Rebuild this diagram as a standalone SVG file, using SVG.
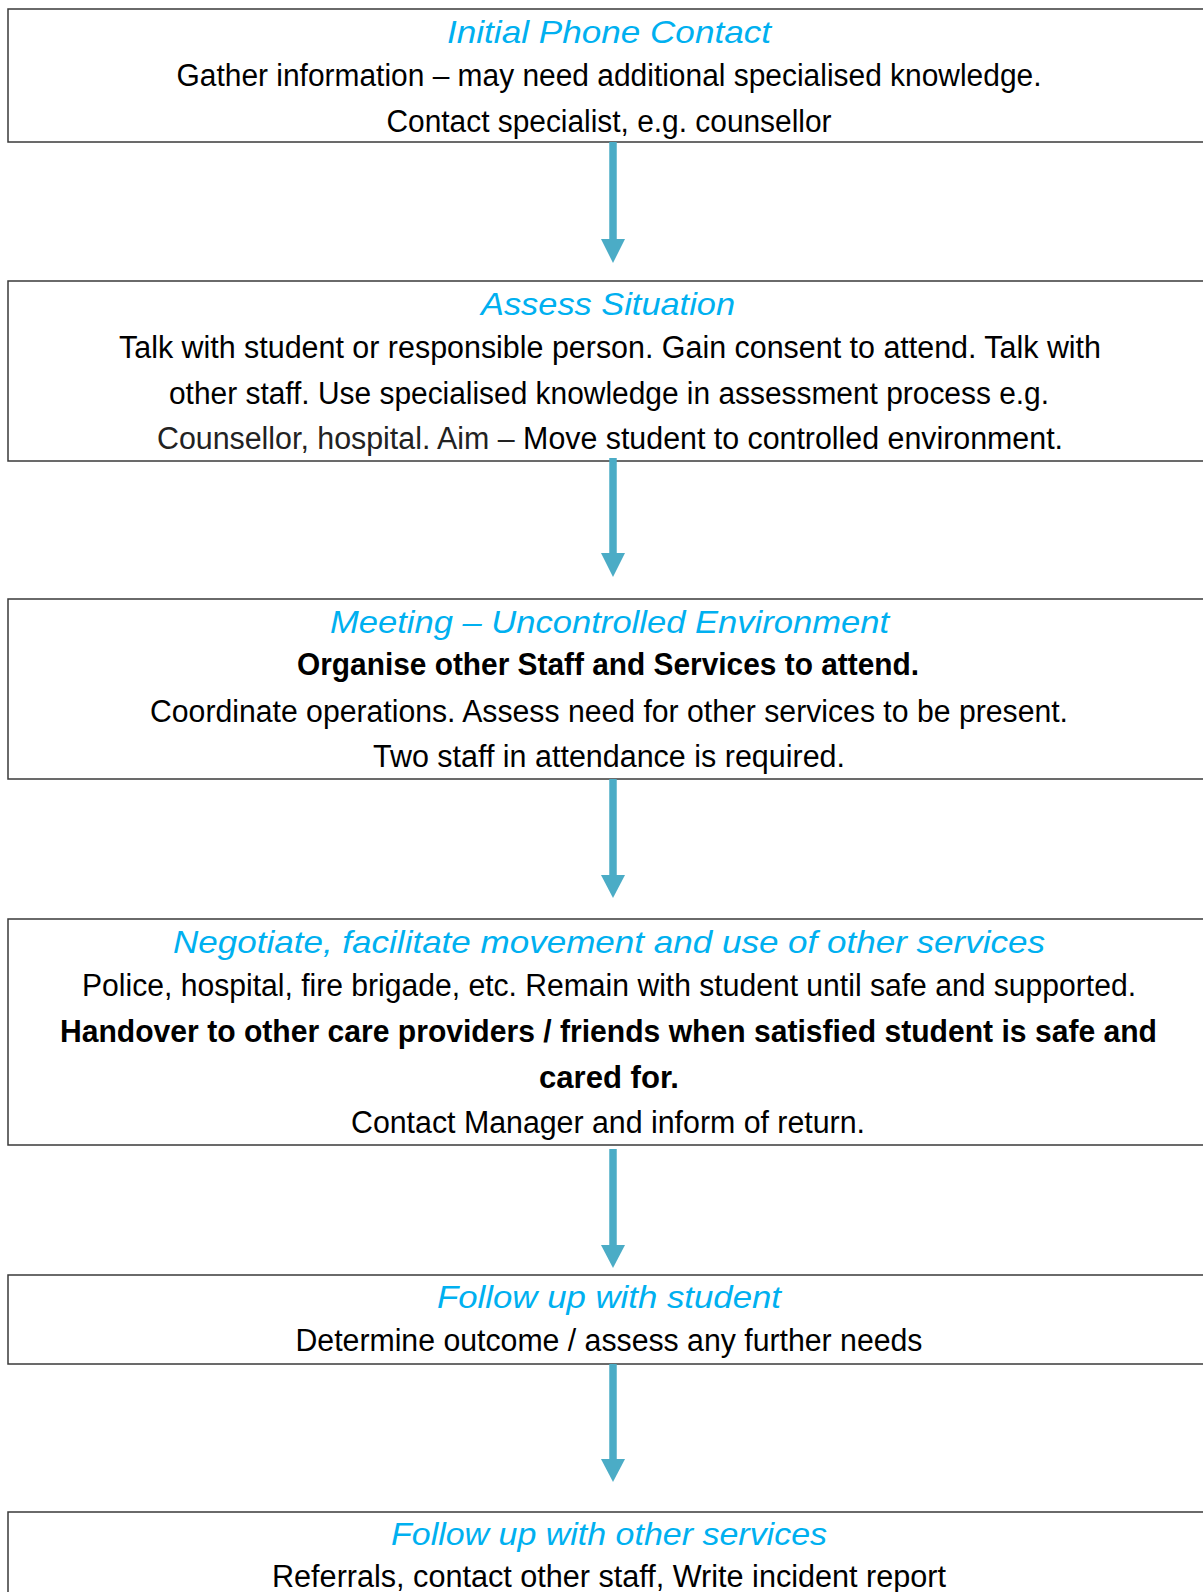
<svg xmlns="http://www.w3.org/2000/svg" width="1203" height="1592" viewBox="0 0 1203 1592">
<style>
.box{fill:#fff;stroke:#3a3a3a;stroke-width:1.5}
.t{font-family:"Liberation Sans",Arial,sans-serif;font-size:32px;font-style:italic;fill:#00B0F0;text-anchor:middle}
.b{font-family:"Liberation Sans",Arial,sans-serif;font-size:31px;fill:#000;text-anchor:middle}
.bold{font-weight:bold}
.light{fill:#222}
.conn{stroke:#4BACC6;stroke-width:7.5;fill:none}
.head{fill:#4BACC6}
</style>
<rect width="1203" height="1592" fill="#fff"/>
<g id="n1">
<rect class="box" x="8" y="9" width="1220" height="133"/>
<text class="t" x="609" y="43" textLength="324" lengthAdjust="spacingAndGlyphs">Initial  Phone  Contact</text>
<text class="b" x="609" y="86" textLength="865" lengthAdjust="spacingAndGlyphs">Gather information – may need additional specialised knowledge.</text>
<text class="b" x="609" y="132" textLength="445" lengthAdjust="spacingAndGlyphs">Contact specialist, e.g. counsellor</text>
</g>
<g id="n2">
<rect class="box" x="8" y="281" width="1220" height="180"/>
<text class="t" x="608" y="315" textLength="254" lengthAdjust="spacingAndGlyphs">Assess Situation</text>
<text class="b" x="610" y="358" textLength="982" lengthAdjust="spacingAndGlyphs">Talk with student or responsible person. Gain consent to attend. Talk with</text>
<text class="b" x="609" y="404" textLength="880" lengthAdjust="spacingAndGlyphs">other staff. Use specialised knowledge in assessment process e.g.</text>
<text class="b" x="610" y="449" textLength="906" lengthAdjust="spacingAndGlyphs"><tspan class="light">Counsellor, hospital. Aim –</tspan> Move student to controlled environment.</text>
</g>
<g id="n3">
<rect class="box" x="8" y="599" width="1220" height="180"/>
<text class="t" x="609.5" y="633" textLength="559" lengthAdjust="spacingAndGlyphs">Meeting – Uncontrolled Environment</text>
<text class="b bold" x="608" y="675" textLength="622" lengthAdjust="spacingAndGlyphs">Organise other Staff and Services to attend.</text>
<text class="b" x="609" y="722" textLength="918" lengthAdjust="spacingAndGlyphs">Coordinate operations. Assess need for other services to be present.</text>
<text class="b" x="609" y="767" textLength="472" lengthAdjust="spacingAndGlyphs">Two staff in attendance is required.</text>
</g>
<g id="n4">
<rect class="box" x="8" y="919" width="1220" height="226"/>
<text class="t" x="609" y="953" textLength="872" lengthAdjust="spacingAndGlyphs">Negotiate, facilitate movement and use of other services</text>
<text class="b" x="609" y="996" textLength="1054" lengthAdjust="spacingAndGlyphs">Police, hospital, fire brigade, etc. Remain with student until safe and supported.</text>
<text class="b bold" x="608.5" y="1042" textLength="1097" lengthAdjust="spacingAndGlyphs">Handover to other care providers / friends when satisfied student is safe and</text>
<text class="b bold" x="609" y="1088" textLength="140" lengthAdjust="spacingAndGlyphs">cared for.</text>
<text class="b" x="608" y="1133" textLength="514" lengthAdjust="spacingAndGlyphs">Contact Manager and inform of return.</text>
</g>
<g id="n5">
<rect class="box" x="8" y="1275" width="1220" height="89"/>
<text class="t" x="609" y="1308" textLength="344" lengthAdjust="spacingAndGlyphs">Follow up with student</text>
<text class="b" x="609" y="1351" textLength="627" lengthAdjust="spacingAndGlyphs">Determine outcome / assess any further needs</text>
</g>
<g id="n6">
<rect class="box" x="8" y="1512" width="1220" height="120"/>
<text class="t" x="609" y="1545" textLength="436" lengthAdjust="spacingAndGlyphs">Follow up with other services</text>
<text class="b" x="609" y="1587" textLength="674" lengthAdjust="spacingAndGlyphs">Referrals, contact other staff, Write incident report</text>
</g>
<g id="connectors">
<line class="conn" x1="613" y1="142" x2="613" y2="241"/>
<polygon class="head" points="601,239 625,239 613,263"/>
<line class="conn" x1="613" y1="458" x2="613" y2="555"/>
<polygon class="head" points="601,553 625,553 613,577"/>
<line class="conn" x1="613" y1="779" x2="613" y2="877"/>
<polygon class="head" points="601,875 625,875 613,898"/>
<line class="conn" x1="613" y1="1149" x2="613" y2="1247"/>
<polygon class="head" points="601,1245 625,1245 613,1268"/>
<line class="conn" x1="613" y1="1364" x2="613" y2="1461"/>
<polygon class="head" points="601,1459 625,1459 613,1482"/>
</g>
</svg>
